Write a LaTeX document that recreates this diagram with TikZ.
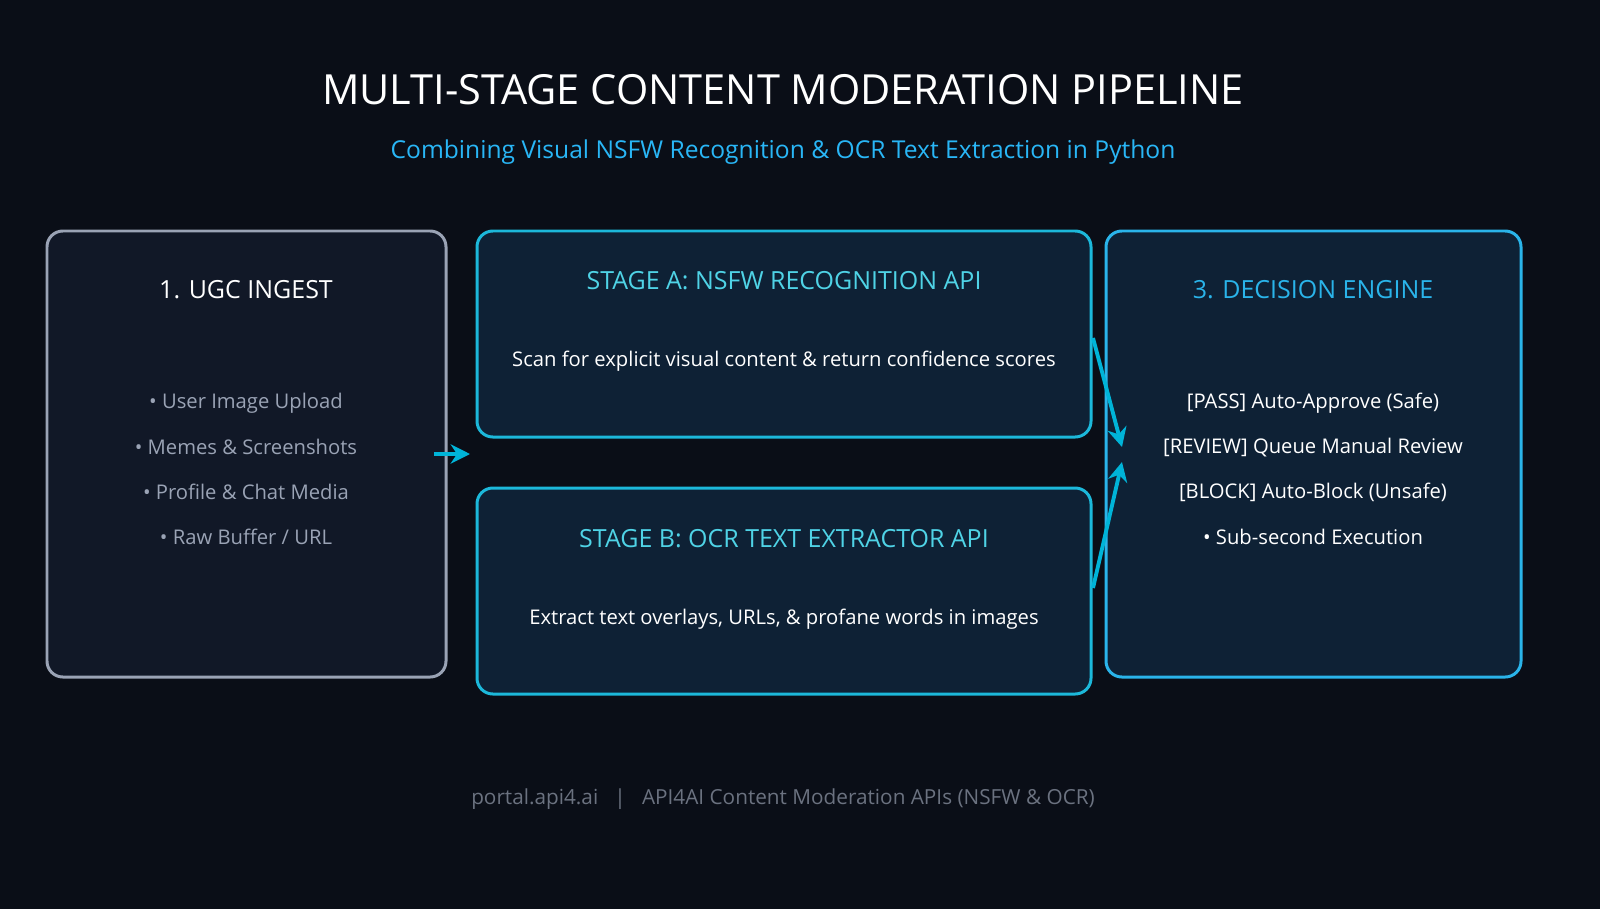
\documentclass[tikz,border=0pt]{standalone}
\usepackage{fontspec}
\setmainfont{Open Sans}
\usetikzlibrary{positioning, arrows.meta}
\definecolor{bgdark}{HTML}{0A0E17}
\definecolor{ingfill}{HTML}{111827}
\definecolor{ingline}{HTML}{9AA3B5}
\definecolor{stfill}{HTML}{0E2135}
\definecolor{stline}{HTML}{1CB8DA}
\definecolor{dcline}{HTML}{2AB4EA}
\definecolor{subblue}{HTML}{29B6F6}
\definecolor{sttitle}{HTML}{4FD3E6}
\definecolor{footgray}{HTML}{6B7280}
\definecolor{arrowc}{HTML}{00B4D8}
\tikzset{>=stealth,
  box/.style={rounded corners=4.5pt, line width=0.85pt},
  ttl/.style={font=\fontsize{7.1pt}{9pt}\selectfont},
  body/.style={font=\fontsize{5.75pt}{7pt}\selectfont},
  flow/.style={-{Stealth[length=5.5pt,width=5.5pt]}, arrowc, line width=1.1pt}}
\begin{document}
\begin{tikzpicture}[x=0.01cm, y=-0.01cm]
    \fill[bgdark] (0,0) rectangle (1600,909);
    \useasboundingbox (0,0) rectangle (1600,909);
    % title
    \node[white, font=\fontsize{11.8pt}{13pt}\selectfont] (title) at (783,90) {MULTI-STAGE CONTENT MODERATION PIPELINE};
    \node[subblue, font=\fontsize{7pt}{9pt}\selectfont] (subtitle) at (783,152) {Combining Visual NSFW Recognition \& OCR Text Extraction in Python};
    % boxes
    \draw[box, ingline, fill=ingfill] (47,231) rectangle (446,677);
    \draw[box, stline, fill=stfill] (477,231) rectangle (1091,437);
    \draw[box, stline, fill=stfill] (477,488) rectangle (1091,694);
    \draw[box, dcline, fill=stfill] (1106,231) rectangle (1521,677);
    % ingest
    \node[ttl, white] (ingest) at (246,290) {1. UGC INGEST};
    \node[body, ingline] (ing1) at (246,403) {• User Image Upload};
    \node[body, ingline] (ing2) at (246,447) {• Memes \& Screenshots};
    \node[body, ingline] (ing3) at (246,492) {• Profile \& Chat Media};
    \node[body, ingline] (ing4) at (246,537) {• Raw Buffer / URL};
    % stages
    \node[ttl, sttitle] (stagea) at (784,281) {STAGE A: NSFW RECOGNITION API};
    \node[body, white] (stageatxt) at (784,361) {Scan for explicit visual content \& return confidence scores};
    \node[ttl, sttitle] (stageb) at (784,539) {STAGE B: OCR TEXT EXTRACTOR API};
    \node[body, white] (stagebtxt) at (784,619) {Extract text overlays, URLs, \& profane words in images};
    % decision
    \node[ttl, dcline] (decision) at (1313,290) {3. DECISION ENGINE};
    \node[body, white] (dec1) at (1313,403) {[PASS] Auto-Approve (Safe)};
    \node[body, white] (dec2) at (1313,448) {[REVIEW] Queue Manual Review};
    \node[body, white] (dec3) at (1313,492) {[BLOCK] Auto-Block (Unsafe)};
    \node[body, white] (dec4) at (1313,537) {• Sub-second Execution};
    % arrows
    \coordinate (ingout) at (434,454);
    \coordinate (stin) at (470,454);
    \coordinate (aout) at (1093,338);
    \coordinate (bout) at (1093,588);
    \coordinate (ain) at (1122,447);
    \coordinate (bin) at (1122,462);
    \draw[flow] (ingout) -- (stin);
    \draw[flow] (aout) -- (ain);
    \draw[flow] (bout) -- (bin);
    % footer
    \node[footgray, font=\fontsize{5.9pt}{7pt}\selectfont] (footer) at (783,799) {portal.api4.ai \ \ | \ \ API4AI Content Moderation APIs (NSFW \& OCR)};
\end{tikzpicture}
\end{document}
